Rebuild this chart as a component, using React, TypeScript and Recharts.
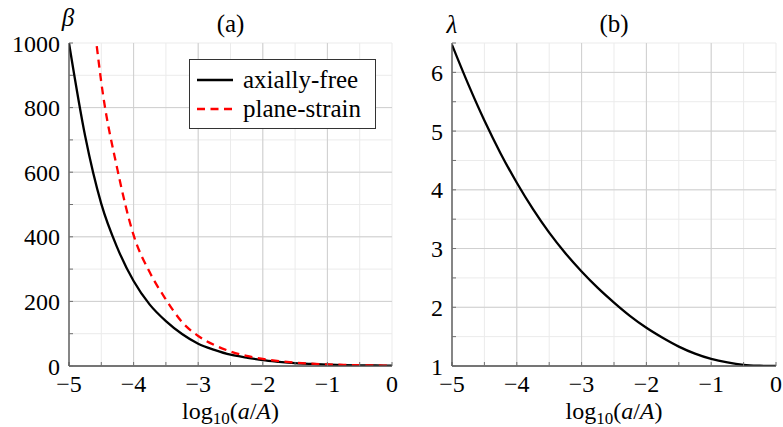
import { LineChart, Line, XAxis, YAxis, CartesianGrid, Legend } from 'recharts';

// x positions (log10(a/A))
const xs = [-5, -4.75, -4.5, -4.25, -4, -3.75, -3.5, -3.25, -3, -2.75, -2.5, -2.25, -2, -1.75, -1.5, -1.25, -1, -0.75, -0.5, -0.25, 0];

// panel (a): beta
const freeBeta = [1000, 712, 502, 365, 263, 190, 139, 99, 69, 50, 35, 26, 18, 13, 9, 6.5, 4.5, 3, 2.1, 1.5, 1];
const strainXs = [-4.57, -4.5, -4.25, -4, -3.75, -3.5, -3.25, -3, -2.75, -2.5, -2.25, -2, -1.75, -1.5, -1.25, -1, -0.75, -0.5, -0.25, 0];
const strainBeta = [990, 878, 608, 405, 290, 206, 136, 93, 65, 45, 31, 22, 15, 10.5, 7.2, 5, 3.4, 2.3, 1.6, 1.05];

// panel (b): lambda
const lambdaVals = [6.47, 5.8, 5.18, 4.62, 4.12, 3.67, 3.27, 2.92, 2.61, 2.33, 2.08, 1.85, 1.65, 1.48, 1.33, 1.21, 1.12, 1.06, 1.02, 1.005, 1];

const xTicks = [-5, -4.5, -4, -3.5, -3, -2.5, -2, -1.5, -1, -0.5, 0];
const xMajor = [-4, -3, -2, -1];
const betaTicks = [0, 100, 200, 300, 400, 500, 600, 700, 800, 900, 1000];
const betaMajor = [200, 400, 600, 800];
const lambdaTicks = [1, 1.5, 2, 2.5, 3, 3.5, 4, 4.5, 5, 5.5, 6, 6.5];
const lambdaMajor = [2, 3, 4, 5, 6];

const freeData = xs.map((x, i) => ({ x, y: freeBeta[i] }));
const strainData = strainXs.map((x, i) => ({ x, y: strainBeta[i] }));
const lambdaData = xs.map((x, i) => ({ x, y: lambdaVals[i] }));

const FONT = "'Liberation Serif'";
const FRAME = '#4a4a4a';
const TICK = '#707070';
const MINOR = '#ebebeb';
const MAJOR = '#cfcfcf';

const tickStyle = { fill: '#000', fontSize: 24, fontFamily: FONT };

const fmtX = (v: number) => (Number.isInteger(v) ? (v < 0 ? '\u2212' + Math.abs(v) : String(v)) : '');

const XLabel = (props: any) => {
  const vb = props.viewBox;
  const cx = vb.x + vb.width / 2;
  return (
    <text x={cx} y={vb.y + 53} textAnchor="middle" style={{ fontFamily: FONT }} fontSize={24} fill="#000">
      log
      <tspan fontSize={17} dy={5}>10</tspan>
      <tspan dy={-5}>(</tspan>
      <tspan fontStyle="italic">a</tspan>/<tspan fontStyle="italic">A</tspan>)
    </text>
  );
};

// axis symbol at the top-left corner and panel title centred over the plot
const cornerLabel = (sym: string, title: string, dx: number, baseline: number, plotWidth: number) => (props: any) => {
  const vb = props.viewBox;
  const x0 = vb.x + vb.width;
  return (
    <g style={{ fontFamily: FONT }} fill="#000" fontSize={25}>
      <text x={x0 + dx} y={vb.y - baseline} textAnchor="middle" fontStyle="italic">
        {sym}
      </text>
      <text x={x0 + plotWidth / 2} y={vb.y - 11} textAnchor="middle">
        {title}
      </text>
    </g>
  );
};

const LegendBox = (props: any) => (
  <div
    style={{
      border: '1px solid #333',
      background: '#fff',
      width: 185,
      padding: '5px 0',
      fontFamily: FONT,
      fontSize: 25,
      lineHeight: '29px',
      color: '#000',
    }}
  >
    {props.payload.map((e: any) => (
      <div key={e.value} style={{ display: 'flex', alignItems: 'center', height: 29 }}>
        <svg width={46} height={10} style={{ marginLeft: 7 }}>
          <line x1={0} y1={5} x2={36} y2={5} stroke={e.color} strokeWidth={2.3} strokeDasharray={e.payload?.strokeDasharray} />
        </svg>
        <span>{e.value}</span>
      </div>
    ))}
  </div>
);

function Panel(props: {
  left: number;
  right: number;
  yTicks: number[];
  yMajor: number[];
  yDomain: [number, number];
  yFmt: (v: number) => string;
  label: any;
  children: any;
  legend?: boolean;
}) {
  return (
    <div style={{ position: 'absolute', left: props.left, top: 0 }}>
      <LineChart width={400} height={427} margin={{ top: 43, right: props.right, bottom: 0, left: 0 }}>
        <CartesianGrid stroke={MINOR} strokeWidth={1} />
        <CartesianGrid stroke={MAJOR} strokeWidth={1} verticalValues={xMajor} horizontalValues={props.yMajor} />
        <XAxis
          dataKey="x"
          type="number"
          domain={[-5, 0]}
          ticks={xTicks}
          allowDataOverflow
          height={61}
          tickSize={-4}
          tickMargin={13}
          tickFormatter={fmtX}
          tick={tickStyle}
          axisLine={{ stroke: FRAME, strokeWidth: 1.3 }}
          tickLine={{ stroke: TICK }}
          interval={0}
          label={<XLabel />}
        />
        <XAxis
          xAxisId="top"
          orientation="top"
          dataKey="x"
          type="number"
          domain={[-5, 0]}
          ticks={xTicks}
          height={0}
          tickSize={-4}
          tick={false}
          interval={0}
          axisLine={{ stroke: FRAME, strokeWidth: 1.3 }}
          tickLine={{ stroke: TICK }}
        />
        <YAxis
          type="number"
          domain={props.yDomain}
          ticks={props.yTicks}
          allowDataOverflow
          width={69}
          tickSize={-4}
          tickMargin={13}
          tickFormatter={props.yFmt}
          tick={tickStyle}
          interval={0}
          axisLine={{ stroke: FRAME, strokeWidth: 1.3 }}
          tickLine={{ stroke: TICK }}
          label={props.label}
        />
        <YAxis
          yAxisId="r"
          orientation="right"
          type="number"
          domain={props.yDomain}
          ticks={props.yTicks}
          width={0}
          tickSize={-4}
          tick={false}
          interval={0}
          axisLine={{ stroke: FRAME, strokeWidth: 1.3 }}
          tickLine={{ stroke: TICK }}
        />
        {props.children}
        {props.legend && (
          <Legend
            layout="horizontal"
            verticalAlign="middle"
            align="center"
            content={<LegendBox />}
            wrapperStyle={{ top: 59, left: 189, width: 187, height: 70 }}
          />
        )}
      </LineChart>
    </div>
  );
}

export default function App() {
  return (
    <div style={{ position: 'absolute', left: 0, top: 0, width: 783, height: 427, background: '#fff', fontFamily: FONT }}>
      <Panel
        left={0}
        right={8}
        yTicks={betaTicks}
        yMajor={betaMajor}
        yDomain={[0, 1000]}
        yFmt={(v) => (v % 200 === 0 ? String(v) : '')}
        label={cornerLabel('\u03b2', '(a)', -1, 17, 323)}
        legend
      >
        <Line
          data={freeData}
          dataKey="y"
          name="axially-free"
          type="monotone"
          stroke="#000"
          strokeWidth={2.3}
          dot={false}
          isAnimationActive={false}
        />
        <Line
          data={strainData}
          dataKey="y"
          name="plane-strain"
          type="monotone"
          stroke="#ff0000"
          strokeWidth={2.3}
          strokeDasharray="8 5.5"
          dot={false}
          isAnimationActive={false}
        />
      </Panel>
      <Panel
        left={383}
        right={7}
        yTicks={lambdaTicks}
        yMajor={lambdaMajor}
        yDomain={[1, 6.5]}
        yFmt={(v) => (Number.isInteger(v) ? String(v) : '')}
        label={cornerLabel('\u03bb', '(b)', 0, 10, 324)}
      >
        <Line
          data={lambdaData}
          dataKey="y"
          name="lambda"
          type="monotone"
          stroke="#000"
          strokeWidth={2.3}
          dot={false}
          isAnimationActive={false}
        />
      </Panel>
    </div>
  );
}
